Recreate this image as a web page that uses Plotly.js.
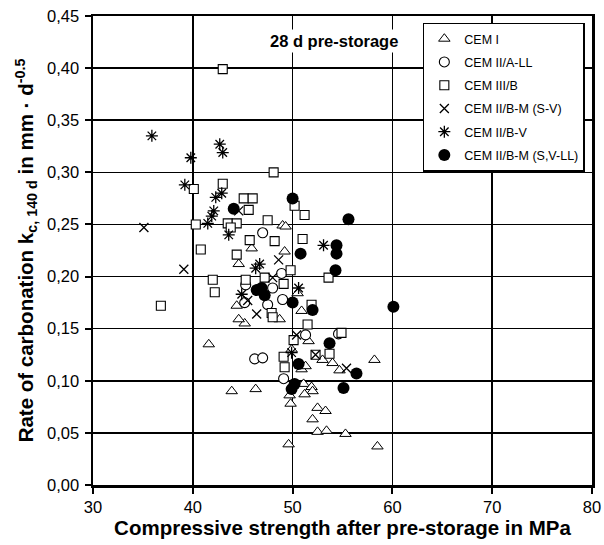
<!DOCTYPE html>
<html><head><meta charset="utf-8">
<script src="https://cdn.plot.ly/plotly-3.0.1.min.js"></script>
<style>body{margin:0;background:#fff}#chart{width:604px;height:545px}</style>
</head><body><div id="chart"></div>
<script>
// CEM I (triangles)
const cem1_x = [41.6,43.9,46.3,49.7,49.8,49.6,50.9,51.3,51.1,51.9,52.0,51.2,52.5,53.3,52.0,52.5,53.4,53.0,54.0,54.7,58.2,58.5,55.3,51.6,49.9,50.9,48.7,45.2,44.6,44.4,45.9,44.6,49.0,49.3,49.2,50.5];
const cem1_y = [0.135,0.090,0.092,0.086,0.078,0.039,0.111,0.114,0.097,0.094,0.090,0.087,0.074,0.071,0.063,0.051,0.052,0.120,0.117,0.110,0.120,0.037,0.049,0.138,0.130,0.167,0.159,0.155,0.159,0.172,0.227,0.212,0.249,0.248,0.224,0.184];
// CEM II/A-LL (open circles)
const cem2all_x = [46.2,47.0,49.1,51.3,54.6,47.5,49.0,45.2,47.0,45.3,48.0,48.9];
const cem2all_y = [0.121,0.122,0.102,0.144,0.145,0.173,0.178,0.175,0.242,0.192,0.189,0.203];
// CEM III/B (open squares)
const cem3b_x = [43.0,48.1,40.1,43.0,50.2,45.1,46.0,45.6,51.2,40.3,43.5,44.4,43.8,47.5,45.7,48.2,51.0,40.8,44.4,53.6,49.8,42.0,42.2,36.8,45.3,47.2,49.1,47.9,51.9,51.5,50.1,54.9,49.1,49.2,52.3,53.7,48.0];
const cem3b_y = [0.399,0.300,0.284,0.289,0.268,0.275,0.275,0.264,0.259,0.250,0.251,0.251,0.247,0.254,0.235,0.234,0.236,0.226,0.221,0.199,0.206,0.197,0.185,0.172,0.197,0.199,0.193,0.165,0.173,0.154,0.139,0.146,0.123,0.113,0.125,0.126,0.161];
// CEM II/B-M (S-V) (crosses)
const cem2bmsv_x = [35.1,39.1,48.6,48.0,46.4,50.4,52.3,55.4,44.6,45.5];
const cem2bmsv_y = [0.247,0.207,0.216,0.199,0.164,0.144,0.125,0.112,0.263,0.177];
// CEM II/B-V (asterisks)
const cem2bv_x = [35.9,39.8,42.7,43.0,39.2,42.9,42.3,42.1,41.9,41.5,43.6,46.3,46.7,53.1,44.9,50.6,49.9];
const cem2bv_y = [0.335,0.314,0.327,0.319,0.288,0.280,0.276,0.263,0.258,0.251,0.240,0.208,0.212,0.230,0.183,0.189,0.127];
// CEM II/B-M (S,V-LL) (filled circles)
const cem2bmsvll_x = [50.0,44.1,55.6,54.4,54.4,50.8,54.3,46.4,46.9,47.2,50.0,52.0,60.1,53.7,50.6,56.4,55.1,49.9,50.2];
const cem2bmsvll_y = [0.275,0.265,0.255,0.230,0.222,0.222,0.206,0.187,0.189,0.182,0.175,0.168,0.171,0.136,0.116,0.107,0.093,0.092,0.097];

const xTicks = [30,40,50,60,70,80];
const yTicks = [0,0.05,0.10,0.15,0.20,0.25,0.30,0.35,0.40,0.45];

const names = ['CEM I','CEM II/A-LL','CEM III/B','CEM II/B-M (S-V)','CEM II/B-V','CEM II/B-M (S,V-LL)'];
const xs = [cem1_x,cem2all_x,cem3b_x,cem2bmsv_x,cem2bv_x,cem2bmsvll_x];
const ys = [cem1_y,cem2all_y,cem3b_y,cem2bmsv_y,cem2bv_y,cem2bmsvll_y];
const markers = [
  {symbol:'triangle-up', size:10, color:'#fff', line:{color:'#000', width:1}},
  {symbol:'circle', size:10, color:'#fff', line:{color:'#000', width:1.1}},
  {symbol:'square', size:9, color:'#fff', line:{color:'#000', width:1.1}},
  {symbol:'x-thin-open', size:9, color:'#000', line:{color:'#000', width:1.3}},
  {symbol:'asterisk-open', size:10, color:'#000', line:{color:'#000', width:1.3}},
  {symbol:'circle', size:12, color:'#000', line:{color:'#000', width:0}}
];
const traces = names.map((n,i)=>({
  type:'scatter', mode:'markers', name:n, x:xs[i], y:ys[i],
  marker:markers[i], legendgroup:'g'+i, showlegend:true
}));

const layout = {
  width:604, height:545,
  margin:{l:93, r:12, t:16, b:60},
  paper_bgcolor:'#fff', plot_bgcolor:'#fff',
  separators:', ',
  font:{family:'Liberation Sans, Arial, sans-serif', color:'#000', size:16},
  showlegend:true,
  legend:{x:0.661, y:0.986, xanchor:'left', yanchor:'top', bgcolor:'#fff', bordercolor:'#000', borderwidth:1.5,
    font:{size:12.5, family:'Liberation Sans, Arial, sans-serif'}, itemwidth:30, traceorder:'grouped', tracegroupgap:4},
  xaxis:{range:[30,80], tickvals:xTicks, ticktext:xTicks.map(String), showgrid:true, gridcolor:'#000', gridwidth:1.5,
    showline:true, linecolor:'#000', linewidth:2.5, mirror:true, ticks:'outside', ticklen:6, tickwidth:2, tickcolor:'#000',
    zeroline:false, tickfont:{size:16.5},
    title:{text:'<b>Compressive strength after pre-storage in MPa</b>', font:{size:20.5}, standoff:2}},
  yaxis:{range:[0,0.45], tickvals:yTicks, tickformat:'.2f', showgrid:true, gridcolor:'#000', gridwidth:1.5,
    showline:true, linecolor:'#000', linewidth:2.5, mirror:true, ticks:'outside', ticklen:6, tickwidth:2, tickcolor:'#000',
    zeroline:false, tickfont:{size:16.5}, ticklabelstandoff:2,
    title:{text:'<b>Rate of carbonation k<sub>c, 140 d</sub> in mm · d<sup>-0.5</sup></b>', font:{size:20.5}, standoff:8}},
  annotations:[{text:'<b>28 d pre-storage</b>', xref:'x', yref:'y', x:47.4, y:0.426, xanchor:'left', yanchor:'middle',
    showarrow:false, bgcolor:'#fff', font:{size:16.5}, borderpad:2}]
};
Plotly.newPlot('chart', traces, layout, {displayModeBar:false, staticPlot:true});
</script></body></html>
